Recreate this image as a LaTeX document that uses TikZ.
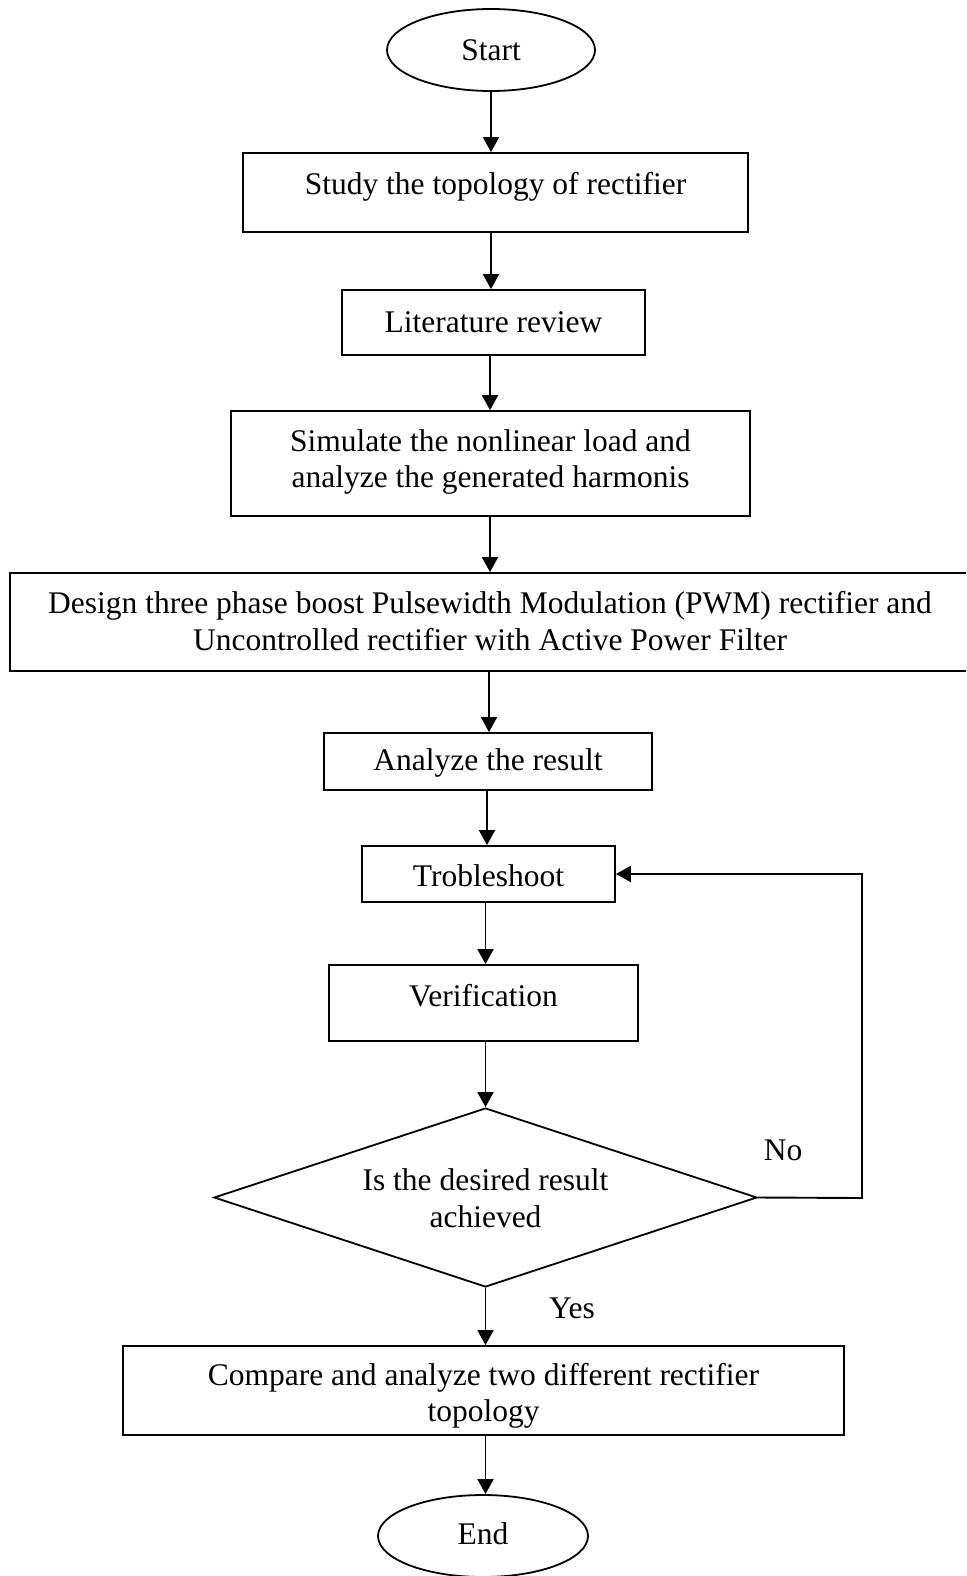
\documentclass[tikz,border=0pt]{standalone}
\usepackage{fontspec}
\setmainfont{Liberation Serif}
\usetikzlibrary{arrows.meta,shapes.geometric}
\begin{document}
\begin{tikzpicture}[x=1pt,y=-1pt,
  line width=1.8pt,
  stepbox/.style={draw,rectangle,inner sep=0pt},
  oval/.style={draw,ellipse,inner sep=0pt},
  txt/.style={font=\fontsize{31.5}{36.5}\selectfont,align=center,inner sep=0pt},
  arr/.style={line width=1.9pt,-{Triangle[length=15pt,width=16pt]}}
]
\useasboundingbox (0,0) rectangle (966,1576);
\clip (0,0) rectangle (966,1576);
% shapes
\node[oval,minimum width=208pt,minimum height=82pt] (start) at (491,50) {};
\node[txt] (tstart) at (491,50) {Start};
\node[stepbox,minimum width=505pt,minimum height=79pt] (b1) at (495.5,192.5) {};
\node[txt] (t1) at (495.5,186.5) {Study the topology of rectifier};
\node[stepbox,minimum width=303pt,minimum height=65pt] (b2) at (493.5,322.5) {};
\node[txt] (t2) at (493.5,322) {Literature review};
\node[stepbox,minimum width=519pt,minimum height=105pt] (b3) at (490.5,463.5) {};
\node[txt] (t3) at (490.5,462) {Simulate the nonlinear load and\\analyze the generated harmonis};
\node[stepbox,minimum width=965pt,minimum height=98pt] (b4) at (492.5,622) {};
\node[txt] (t4) at (490,621) {Design three phase boost Pulsewidth Modulation (PWM) rectifier and\\Uncontrolled rectifier with Active Power Filter};
\node[stepbox,minimum width=328pt,minimum height=57pt] (b5) at (488,761.5) {};
\node[txt] (t5) at (488,763) {Analyze the result};
\node[stepbox,minimum width=253pt,minimum height=56pt] (b6) at (488.5,874) {};
\node[txt] (t6) at (488.5,876) {Trobleshoot};
\node[stepbox,minimum width=309pt,minimum height=76pt] (b7) at (483.5,1003) {};
\node[txt] (t7) at (483.5,995.5) {Verification};
\node[draw,diamond,inner sep=0pt,minimum width=543pt,minimum height=179pt] (dec) at (485.5,1197.5) {};
\node[txt] (tdec) at (485.5,1198) {Is the desired result\\achieved};
\node[txt] (no) at (783,1150) {No};
\node[txt] (yes) at (572,1308) {Yes};
\node[stepbox,minimum width=721pt,minimum height=89pt] (b8) at (483.5,1390.5) {};
\begin{scope}
\clip (b8.south west) rectangle (b8.north east);
\node[txt] (t8) at (483.5,1396) {Compare and analyze two different rectifier\\topology};
\end{scope}
\node[oval,minimum width=210pt,minimum height=82pt] (end) at (483,1536) {};
\node[txt] (tend) at (483,1534) {End};
\coordinate (loop) at (862,1198);
% connectors
\draw[arr] (start.south) -- (start.south |- b1.north);
\draw[arr] (b1.south -| start.south) -- (start.south |- b2.north);
\draw[arr] (b2.south -| 490,0) -- (b3.north -| 490,0);
\draw[arr] (b3.south -| 490,0) -- (b4.north -| 490,0);
\draw[arr] (b4.south -| 489,0) -- (b5.north -| 489,0);
\draw[arr] (b5.south -| 487,0) -- (b6.north -| 487,0);
\draw[arr] (b6.south -| dec.north) -- (b7.north -| dec.north);
\draw[arr] (b7.south -| dec.north) -- (dec.north);
\draw[arr] (dec.east) -- (loop) |- (b6.east);
\draw[arr] (dec.south) -- (dec.south |- b8.north);
\draw[arr] (b8.south -| dec.south) -- (dec.south |- end.north);
\end{tikzpicture}
\end{document}
